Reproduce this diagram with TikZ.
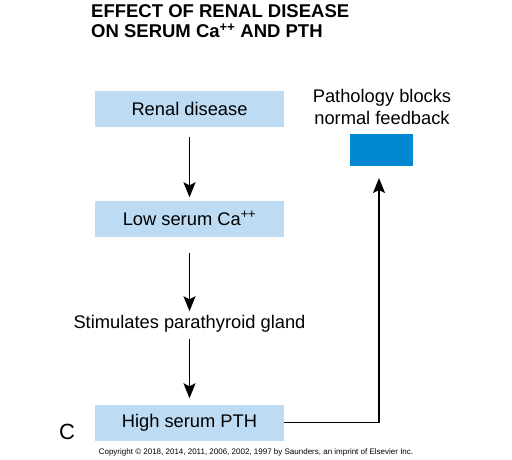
\documentclass[tikz,border=0pt]{standalone}
\usepackage{fontspec}
\setmainfont{Liberation Sans}
\usetikzlibrary{arrows.meta}
\definecolor{lightbox}{HTML}{BDDCF4}
\definecolor{darkbox}{HTML}{0088D1}
\begin{document}
\begin{tikzpicture}[x=1pt,y=-1pt,
  box/.style={fill=lightbox,draw=none,minimum width=189pt,minimum height=36pt,inner sep=0pt,font=\fontsize{18.3}{20}\selectfont},
  lbl/.style={inner sep=0pt,font=\fontsize{18.3}{22}\selectfont,align=center},
  arr/.style={line width=1.7pt,-{Stealth[length=15pt,width=12pt,inset=3pt]}},
  conn/.style={line width=1.7pt}]
\useasboundingbox (0,0) rectangle (512,459);
\node[anchor=north west,inner sep=0pt,align=left,font=\fontsize{18.5}{20.5}\selectfont\bfseries] (title) at (91,4)
  {EFFECT OF RENAL DISEASE\\ON SERUM Ca\textsuperscript{++} AND PTH};
\node[box] (renal) at (189.5,108.5) {Renal disease};
\node[box] (low) at (189.5,218.5) {Low serum Ca\textsuperscript{++}};
\node[lbl] (stim) at (189.5,324) {Stimulates parathyroid gland};
\node[box] (high) at (189.5,422.5) {High serum PTH};
\node[lbl] (path) at (382,107) {Pathology blocks\\normal feedback};
\node[fill=darkbox,minimum width=63pt,minimum height=32pt,inner sep=0pt] (block) at (381.5,149.5) {};
\node[inner sep=0pt,font=\fontsize{22}{24}\selectfont] (c) at (67,432) {C};
\node[inner sep=0pt,font=\fontsize{8}{9}\selectfont] (copy) at (256,452) {Copyright © 2018, 2014, 2011, 2006, 2002, 1997 by Saunders, an imprint of Elsevier Inc.};
\draw[arr] ([yshift=-10pt]renal.south) -- ([yshift=3pt]low.north);
\draw[arr] ([yshift=-16pt]low.south) -- ([yshift=4pt]stim.north);
\draw[arr] ([yshift=-6pt]stim.south) -- ([yshift=6pt]high.north);
\coordinate (corner) at (379,422.5);
\draw[conn] (high.east) -- (corner);
\draw[arr] (corner) -- (379,178);
\end{tikzpicture}
\end{document}
